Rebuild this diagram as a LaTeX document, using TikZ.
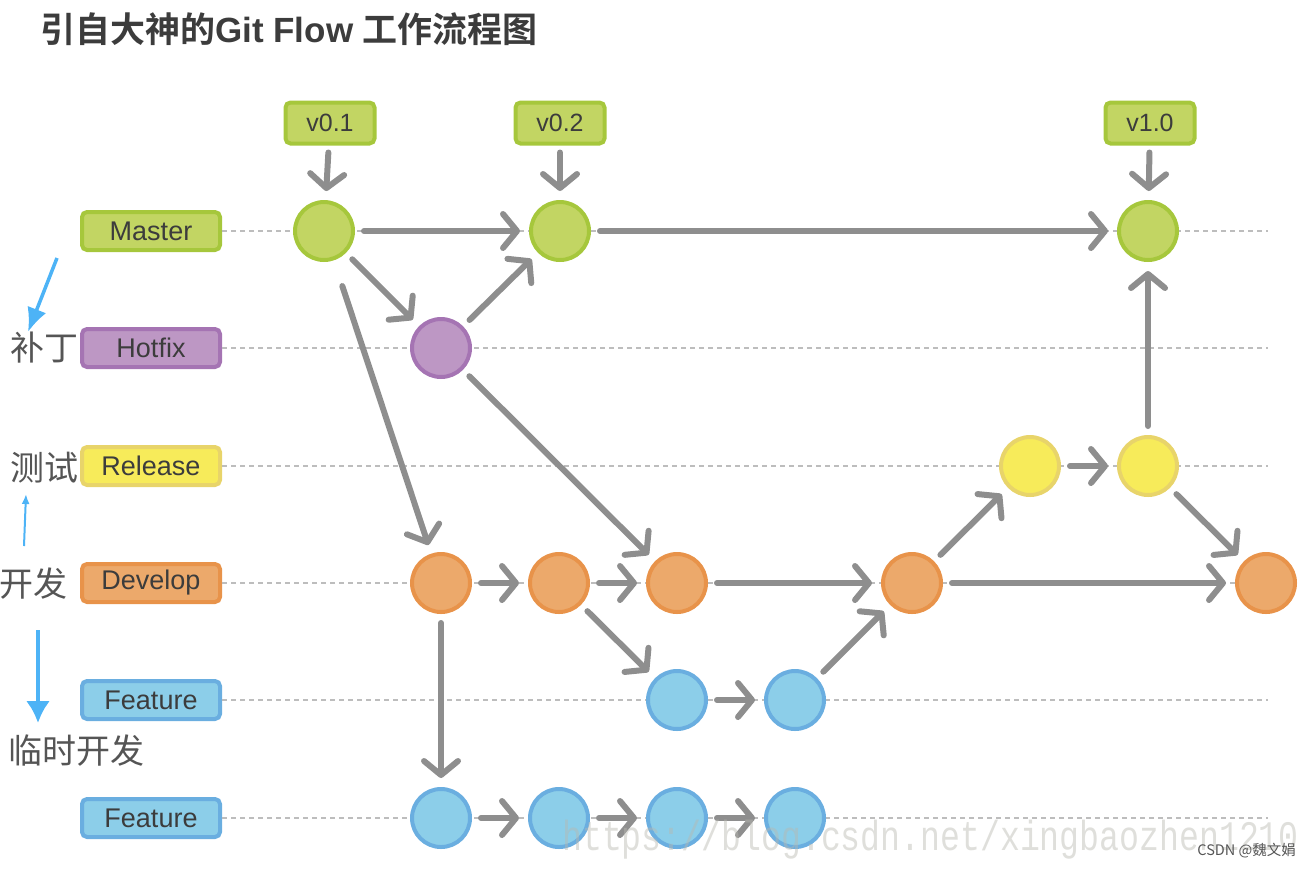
\documentclass[tikz,border=0pt]{standalone}
\usepackage{fontspec}
\setmainfont{Liberation Sans}
\newfontfamily\cjk[BoldFont={Noto Sans CJK SC Bold}]{Noto Sans CJK SC}
\newfontfamily\markfont[FakeStretch=0.79]{Liberation Mono}
\usetikzlibrary{arrows.meta}

\definecolor{masterfill}{HTML}{C2D563}
\definecolor{masterline}{HTML}{A6C73C}
\definecolor{hotfixfill}{HTML}{BD97C4}
\definecolor{hotfixline}{HTML}{A574B3}
\definecolor{releasefill}{HTML}{F7EB5A}
\definecolor{releaseline}{HTML}{E8D46A}
\definecolor{developfill}{HTML}{ECA96B}
\definecolor{developline}{HTML}{E8934A}
\definecolor{featurefill}{HTML}{8CCEE9}
\definecolor{featureline}{HTML}{6AAEE0}
\definecolor{arrowgray}{HTML}{8E8E8E}
\definecolor{lanegray}{HTML}{BDBDBD}
\definecolor{textgray}{HTML}{3C3C3C}
\definecolor{notegray}{HTML}{555555}
\definecolor{noteblue}{HTML}{4DB3F6}
\definecolor{markgray}{HTML}{B8B8B0}

\tikzset{
	every branch/.style={rectangle, rounded corners=5pt, line width=4pt, minimum width=138pt,
		minimum height=38pt, inner sep=0pt, text=textgray, font=\fontsize{27}{27}\selectfont},
	every tag/.style={rectangle, rounded corners=5pt, line width=4pt, minimum width=89pt,
		minimum height=41pt, inner sep=0pt, outer sep=9pt, text=textgray,
		font=\fontsize{25}{25}\selectfont, draw=masterline, fill=masterfill},
	every commit/.style={circle, minimum size=58pt, line width=4pt, inner sep=0pt, outer sep=11pt},
	branch master/.style={draw=masterline, fill=masterfill},
	branch hotfix/.style={draw=hotfixline, fill=hotfixfill},
	branch release/.style={draw=releaseline, fill=releasefill},
	branch develop/.style={draw=developline, fill=developfill},
	branch feature/.style={draw=featureline, fill=featurefill},
	lane/.style={draw=lanegray, line width=1.5pt, dash pattern=on 5pt off 4pt},
	flow/.style={draw=arrowgray, line width=6pt, line cap=round,
		-{Straight Barb[length=14pt, width=34pt, line cap=round, line join=round]}},
	hint/.style={draw=noteblue, fill=noteblue},
	note/.style={text=notegray, inner sep=0pt, font=\cjk\fontsize{34}{34}\selectfont}
}

\begin{document}
\begin{tikzpicture}[x=1pt, y=-1pt]
\useasboundingbox (0,0) rectangle (1308,868);

% title
\node [anchor=west, inner sep=0pt, text=textgray, font=\bfseries\fontsize{35}{35}\selectfont]
	(title) at (40,29) {{\cjk 引自大神的}Git Flow {\cjk 工作流程图}};

% branch labels and lanes
\foreach \b/\t/\y [count=\i] in {master/Master/231, hotfix/Hotfix/348, release/Release/466,
		develop/Develop/583, feature/Feature/700, feature/Feature/818}
{
	\node [every branch, branch \b] (label-\i) at (151,\y) {\t};
	\coordinate (lane-end-\i) at (1268,\y);
	\draw [lane] (label-\i.east) -- (lane-end-\i);
}

% commits
\foreach \x [count=\j] in {324,560,1148}
	\node [every commit, branch master] (master-\j) at (\x,231) {};
\node [every commit, branch hotfix] (hotfix-1) at (441,348) {};
\foreach \x [count=\j] in {1030,1148}
	\node [every commit, branch release] (release-\j) at (\x,466) {};
\foreach \x [count=\j] in {441,559,677,912,1266}
	\node [every commit, branch develop] (develop-\j) at (\x,583) {};
\foreach \x [count=\j] in {677,795}
	\node [every commit, branch feature] (featureA-\j) at (\x,700) {};
\foreach \x [count=\j] in {441,559,677,795}
	\node [every commit, branch feature] (featureB-\j) at (\x,818) {};

% version tags
\foreach \t/\x [count=\j] in {v0.1/330, v0.2/560, v1.0/1150}
{
	\node [every tag] (tag-\j) at (\x,123) {\t};
	\draw [flow] (tag-\j) -- (master-\j);
}

% commit connection
\foreach \a/\b in {master-1/master-2, master-2/master-3, master-1/hotfix-1, hotfix-1/master-2,
		hotfix-1/develop-3, develop-1/develop-2, develop-2/develop-3, develop-3/develop-4,
		develop-4/develop-5, develop-2/featureA-1, featureA-1/featureA-2, featureA-2/develop-4,
		develop-4/release-1, release-1/release-2, release-2/master-3, release-2/develop-5,
		develop-1/featureB-1, featureB-1/featureB-2, featureB-2/featureB-3, featureB-3/featureB-4}
	\draw [flow] (\a) -- (\b);
\draw [flow, shorten <=18pt] (master-1) -- (develop-1);

% notes
\node [note] (note-hotfix) at (44,348) {补丁};
\node [note] (note-release) at (44,468) {测试};
\node [note] (note-develop) at (33,584) {开发};
\node [note] (note-feature) at (77,751) {临时开发};

% note arrows
\coordinate (hint-a-start) at (57,258);
\coordinate (hint-a-end) at (28,332);
\coordinate (hint-b-start) at (24,546);
\coordinate (hint-b-end) at (26,494);
\coordinate (hint-c-start) at (38,630);
\coordinate (hint-c-end) at (38,723);
\draw [hint, line width=3.5pt, -{Latex[length=24pt, width=20pt]}] (hint-a-start) -- (hint-a-end);
\draw [hint, line width=2pt, -{Latex[length=10pt, width=8pt]}] (hint-b-start) -- (hint-b-end);
\draw [hint, line width=4pt, -{Latex[length=22pt, width=24pt]}] (hint-c-start) -- (hint-c-end);

% watermark
\node [anchor=base west, inner sep=0pt, text=markgray, opacity=0.45, font=\markfont\fontsize{42}{42}\selectfont]
	(mark-url) at (562,850) {https://blog.csdn.net/xingbaozhen1210};
\node [anchor=east, inner sep=0pt, text=notegray, font=\cjk\fontsize{14.5}{14.5}\selectfont]
	(mark-csdn) at (1296,851) {CSDN @魏文娟};

\end{tikzpicture}
\end{document}
